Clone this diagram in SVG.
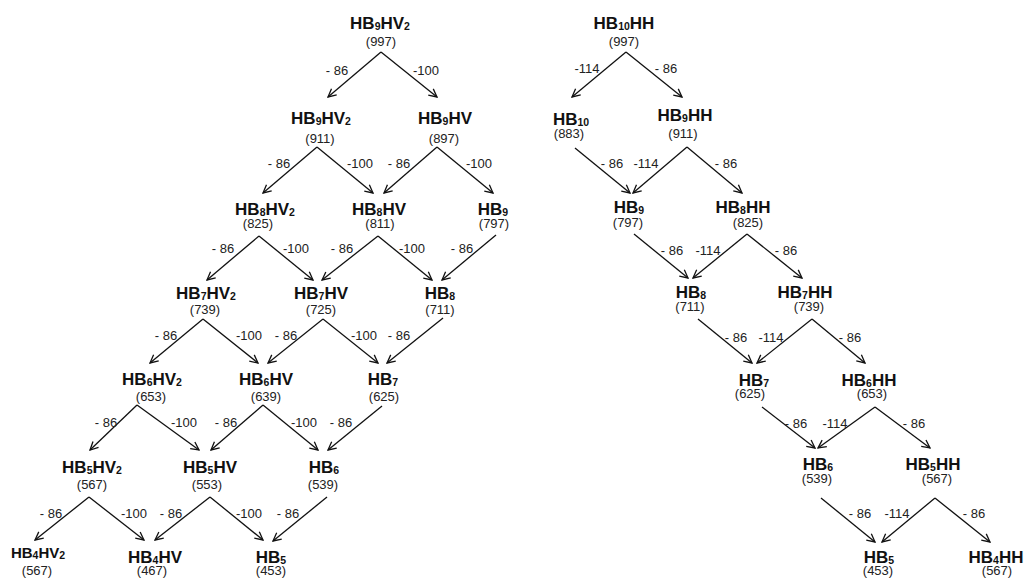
<svg xmlns="http://www.w3.org/2000/svg" width="1024" height="579" viewBox="0 0 1024 579">
<style>
.t{font-family:"Liberation Sans",Arial,sans-serif;font-weight:bold;font-size:17px;fill:#111;text-anchor:middle}
.t4{font-size:15px}
.s{font-size:10.5px}
.n{font-family:"Liberation Sans",Arial,sans-serif;font-size:13px;fill:#222;text-anchor:middle}
.l{font-family:"Liberation Sans",Arial,sans-serif;font-size:13px;fill:#222;text-anchor:middle}
.c line{stroke:#111;stroke-width:1.3;marker-end:url(#ah)}
</style>
<defs>
<marker id="ah" markerWidth="10" markerHeight="10" refX="9" refY="5" orient="auto" markerUnits="userSpaceOnUse">
<path d="M1,1 L9,5 L1,9" fill="none" stroke="#111" stroke-width="1.3"/>
</marker>
</defs>
<rect width="1024" height="579" fill="#fff"/>

<g id="connectors" class="c">
<!-- left tree -->
<line x1="381" y1="52" x2="328" y2="97"/>
<line x1="381" y1="52" x2="437" y2="97"/>
<line x1="317" y1="147" x2="263" y2="193"/>
<line x1="317" y1="147" x2="373" y2="193"/>
<line x1="437" y1="147" x2="384" y2="193"/>
<line x1="437" y1="147" x2="493" y2="193"/>
<line x1="259" y1="236" x2="207" y2="280"/>
<line x1="259" y1="236" x2="313" y2="280"/>
<line x1="378" y1="236" x2="322" y2="280"/>
<line x1="378" y1="236" x2="432" y2="280"/>
<line x1="496" y1="235" x2="442" y2="280"/>
<line x1="203" y1="319" x2="150" y2="363"/>
<line x1="203" y1="319" x2="258" y2="363"/>
<line x1="323" y1="319" x2="268" y2="363"/>
<line x1="323" y1="319" x2="378" y2="363"/>
<line x1="443" y1="318" x2="387" y2="363"/>
<line x1="137" y1="405" x2="90" y2="450"/>
<line x1="137" y1="405" x2="199" y2="450"/>
<line x1="263" y1="405" x2="211" y2="450"/>
<line x1="263" y1="405" x2="318" y2="450"/>
<line x1="382" y1="406" x2="328" y2="450"/>
<line x1="89" y1="497" x2="35" y2="540"/>
<line x1="89" y1="497" x2="144" y2="540"/>
<line x1="210" y1="497" x2="155" y2="540"/>
<line x1="210" y1="497" x2="263" y2="540"/>
<line x1="327" y1="497" x2="273" y2="541"/>
<!-- right tree -->
<line x1="626" y1="52" x2="572" y2="97"/>
<line x1="626" y1="52" x2="682" y2="97"/>
<line x1="575" y1="148" x2="630" y2="193"/>
<line x1="687" y1="147" x2="633" y2="193"/>
<line x1="687" y1="147" x2="742" y2="193"/>
<line x1="634" y1="234" x2="688" y2="278"/>
<line x1="747" y1="234" x2="693" y2="278"/>
<line x1="747" y1="234" x2="802" y2="278"/>
<line x1="698" y1="319" x2="752" y2="363"/>
<line x1="812" y1="319" x2="757" y2="363"/>
<line x1="812" y1="319" x2="865" y2="363"/>
<line x1="762" y1="407" x2="815" y2="448"/>
<line x1="875" y1="407" x2="818" y2="448"/>
<line x1="875" y1="407" x2="930" y2="448"/>
<line x1="821" y1="498" x2="875" y2="542"/>
<line x1="935" y1="498" x2="882" y2="542"/>
<line x1="935" y1="498" x2="990" y2="542"/>
</g>

<g id="edge-labels">
<text class="l" x="337" y="75">- 86</text><text class="l" x="426" y="75">-100</text>
<text class="l" x="279" y="168">- 86</text><text class="l" x="360" y="168">-100</text><text class="l" x="399" y="168">- 86</text><text class="l" x="479" y="168">-100</text>
<text class="l" x="223" y="253">- 86</text><text class="l" x="296" y="253">-100</text><text class="l" x="342" y="253">- 86</text><text class="l" x="412" y="253">-100</text><text class="l" x="462" y="253">- 86</text>
<text class="l" x="166" y="340">- 86</text><text class="l" x="249" y="340">-100</text><text class="l" x="286" y="340">- 86</text><text class="l" x="364" y="340">-100</text><text class="l" x="399" y="340">- 86</text>
<text class="l" x="106" y="427">- 86</text><text class="l" x="184" y="427">-100</text><text class="l" x="226" y="427">- 86</text><text class="l" x="304" y="427">-100</text><text class="l" x="341" y="427">- 86</text>
<text class="l" x="51" y="518">- 86</text><text class="l" x="134" y="518">-100</text><text class="l" x="171" y="518">- 86</text><text class="l" x="249" y="518">-100</text><text class="l" x="288" y="518">- 86</text>
<text class="l" x="587" y="73">-114</text><text class="l" x="666" y="73">- 86</text>
<text class="l" x="612" y="168">- 86</text><text class="l" x="646" y="168">-114</text><text class="l" x="726" y="168">- 86</text>
<text class="l" x="672" y="255">- 86</text><text class="l" x="708" y="255">-114</text><text class="l" x="786" y="255">- 86</text>
<text class="l" x="736" y="342">- 86</text><text class="l" x="771" y="342">-114</text><text class="l" x="850" y="342">- 86</text>
<text class="l" x="796" y="428">- 86</text><text class="l" x="835" y="428">-114</text><text class="l" x="914" y="428">- 86</text>
<text class="l" x="860" y="518">- 86</text><text class="l" x="897" y="518">-114</text><text class="l" x="974" y="518">- 86</text>
</g>

<!-- left tree nodes -->
<g id="L0"><text class="t" x="380" y="29">HB<tspan class="s" dy="1">9</tspan><tspan dy="-1">HV</tspan><tspan class="s" dy="1">2</tspan></text><text class="n" x="381" y="46">(997)</text></g>
<g id="L1a"><text class="t" x="321" y="124">HB<tspan class="s" dy="1">9</tspan><tspan dy="-1">HV</tspan><tspan class="s" dy="1">2</tspan></text><text class="n" x="320" y="142.5">(911)</text></g>
<g id="L1b"><text class="t" x="445" y="124">HB<tspan class="s" dy="1">9</tspan><tspan dy="-1">HV</tspan></text><text class="n" x="444" y="142.5">(897)</text></g>
<g id="L2a"><text class="t" x="265" y="215">HB<tspan class="s" dy="1">8</tspan><tspan dy="-1">HV</tspan><tspan class="s" dy="1">2</tspan></text><text class="n" x="258" y="228">(825)</text></g>
<g id="L2b"><text class="t" x="379" y="215">HB<tspan class="s" dy="1">8</tspan><tspan dy="-1">HV</tspan></text><text class="n" x="380" y="228">(811)</text></g>
<g id="L2c"><text class="t" x="493" y="215">HB<tspan class="s" dy="1">9</tspan></text><text class="n" x="494" y="228">(797)</text></g>
<g id="L3a"><text class="t" x="206" y="299">HB<tspan class="s" dy="1">7</tspan><tspan dy="-1">HV</tspan><tspan class="s" dy="1">2</tspan></text><text class="n" x="205" y="314">(739)</text></g>
<g id="L3b"><text class="t" x="321" y="299">HB<tspan class="s" dy="1">7</tspan><tspan dy="-1">HV</tspan></text><text class="n" x="321" y="314">(725)</text></g>
<g id="L3c"><text class="t" x="440" y="299">HB<tspan class="s" dy="1">8</tspan></text><text class="n" x="440" y="314">(711)</text></g>
<g id="L4a"><text class="t" x="152" y="385">HB<tspan class="s" dy="1">6</tspan><tspan dy="-1">HV</tspan><tspan class="s" dy="1">2</tspan></text><text class="n" x="151" y="400.5">(653)</text></g>
<g id="L4b"><text class="t" x="266" y="385">HB<tspan class="s" dy="1">6</tspan><tspan dy="-1">HV</tspan></text><text class="n" x="266" y="400.5">(639)</text></g>
<g id="L4c"><text class="t" x="383" y="385">HB<tspan class="s" dy="1">7</tspan></text><text class="n" x="384" y="400.5">(625)</text></g>
<g id="L5a"><text class="t" x="92" y="473">HB<tspan class="s" dy="1">5</tspan><tspan dy="-1">HV</tspan><tspan class="s" dy="1">2</tspan></text><text class="n" x="92" y="489">(567)</text></g>
<g id="L5b"><text class="t" x="210" y="473">HB<tspan class="s" dy="1">5</tspan><tspan dy="-1">HV</tspan></text><text class="n" x="207" y="489">(553)</text></g>
<g id="L5c"><text class="t" x="324" y="473">HB<tspan class="s" dy="1">6</tspan></text><text class="n" x="323" y="489">(539)</text></g>
<g id="L6a"><text class="t t4" x="38" y="558">HB<tspan class="s" dy="1">4</tspan><tspan dy="-1">HV</tspan><tspan class="s" dy="1">2</tspan></text><text class="n" x="37" y="575">(567)</text></g>
<g id="L6b"><text class="t" x="155" y="563">HB<tspan class="s" dy="1">4</tspan><tspan dy="-1">HV</tspan></text><text class="n" x="152" y="575">(467)</text></g>
<g id="L6c"><text class="t" x="271" y="563">HB<tspan class="s" dy="1">5</tspan></text><text class="n" x="271" y="575">(453)</text></g>

<!-- right tree nodes -->
<g id="R0"><text class="t" x="624" y="29">HB<tspan class="s" dy="1">10</tspan><tspan dy="-1">HH</tspan></text><text class="n" x="624" y="46">(997)</text></g>
<g id="R1a"><text class="t" x="571" y="125">HB<tspan class="s" dy="1">10</tspan></text><text class="n" x="569" y="138">(883)</text></g>
<g id="R1b"><text class="t" x="685" y="121">HB<tspan class="s" dy="1">9</tspan><tspan dy="-1">HH</tspan></text><text class="n" x="683" y="138">(911)</text></g>
<g id="R2a"><text class="t" x="629" y="213">HB<tspan class="s" dy="1">9</tspan></text><text class="n" x="628" y="226.5">(797)</text></g>
<g id="R2b"><text class="t" x="743" y="213">HB<tspan class="s" dy="1">8</tspan><tspan dy="-1">HH</tspan></text><text class="n" x="748" y="226.5">(825)</text></g>
<g id="R3a"><text class="t" x="691" y="298">HB<tspan class="s" dy="1">8</tspan></text><text class="n" x="690" y="311">(711)</text></g>
<g id="R3b"><text class="t" x="805" y="298">HB<tspan class="s" dy="1">7</tspan><tspan dy="-1">HH</tspan></text><text class="n" x="809" y="311">(739)</text></g>
<g id="R4a"><text class="t" x="754" y="386">HB<tspan class="s" dy="1">7</tspan></text><text class="n" x="750" y="398">(625)</text></g>
<g id="R4b"><text class="t" x="869" y="386">HB<tspan class="s" dy="1">6</tspan><tspan dy="-1">HH</tspan></text><text class="n" x="872" y="398">(653)</text></g>
<g id="R5a"><text class="t" x="818" y="470">HB<tspan class="s" dy="1">6</tspan></text><text class="n" x="817" y="482.5">(539)</text></g>
<g id="R5b"><text class="t" x="933" y="470">HB<tspan class="s" dy="1">5</tspan><tspan dy="-1">HH</tspan></text><text class="n" x="937" y="482.5">(567)</text></g>
<g id="R6a"><text class="t" x="879" y="563">HB<tspan class="s" dy="1">5</tspan></text><text class="n" x="878" y="575">(453)</text></g>
<g id="R6b"><text class="t" x="996" y="563">HB<tspan class="s" dy="1">4</tspan><tspan dy="-1">HH</tspan></text><text class="n" x="997" y="575">(567)</text></g>
</svg>
